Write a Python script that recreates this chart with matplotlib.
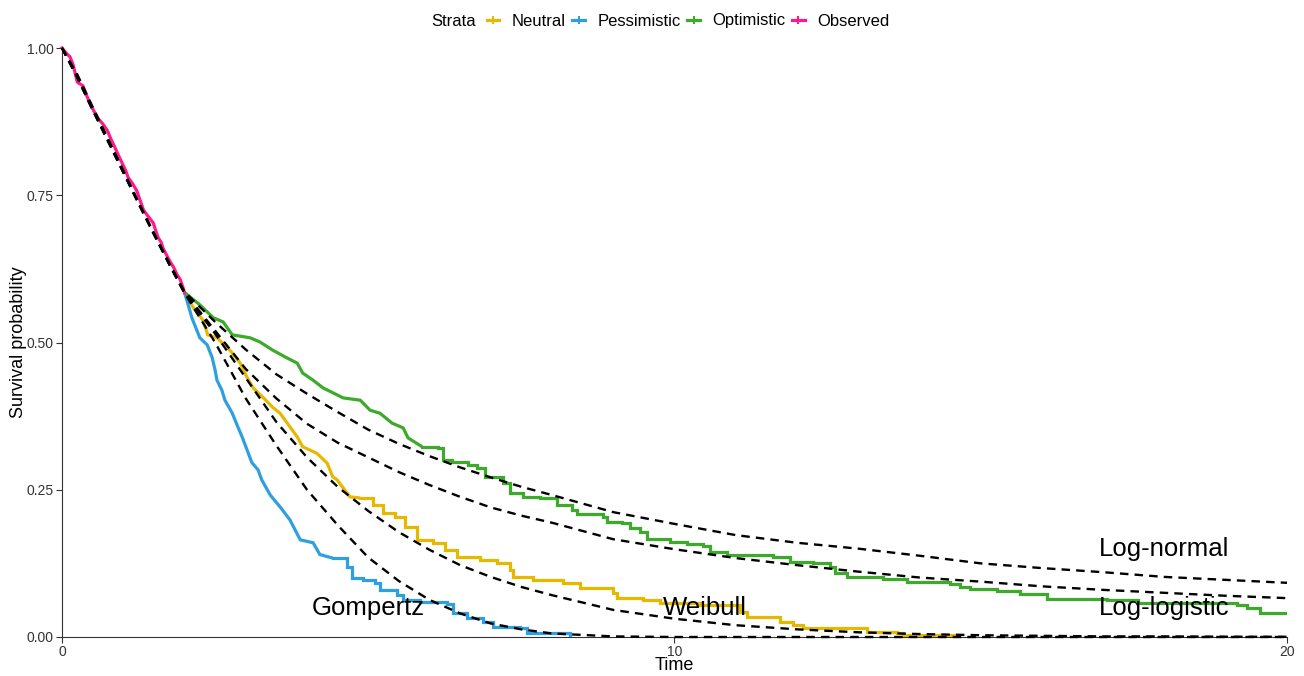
import matplotlib
matplotlib.use("Agg")
import matplotlib.pyplot as plt
from matplotlib.lines import Line2D

plt.rcParams['font.family'] = ['Liberation Sans', 'DejaVu Sans']

# Kaplan-Meier: observed follow-up (0-2 years)
obs_t = [0, 0.08, 0.13, 0.18, 0.22, 0.25, 0.34, 0.4, 0.46, 0.52, 0.59, 0.66, 0.74, 0.8,
         0.86, 0.92, 0.98, 1.04, 1.08, 1.15, 1.22, 1.28, 1.33, 1.4, 1.49, 1.53, 1.57,
         1.62, 1.65, 1.7, 1.76, 1.82, 1.88, 1.93, 1.97, 2.0]
obs_s = [1.0, 0.99, 0.985, 0.972, 0.955, 0.942, 0.936, 0.92, 0.905, 0.893, 0.88, 0.872,
         0.86, 0.845, 0.832, 0.818, 0.805, 0.792, 0.78, 0.77, 0.758, 0.74, 0.725, 0.715,
         0.703, 0.69, 0.678, 0.67, 0.66, 0.65, 0.638, 0.628, 0.615, 0.607, 0.595, 0.585]

# extrapolated strata
opt_t = [2.0, 2.25, 2.47, 2.63, 2.78, 3.07, 3.23, 3.44, 3.67, 3.84, 3.93, 4.10, 4.26, 4.59,
         4.87, 5.03, 5.19, 5.39, 5.57, 5.65, 5.88, 6.14, 6.22, 6.37, 6.63, 6.78, 6.91, 7.20,
         7.31, 7.53, 7.80, 8.08, 8.33, 8.41, 8.83, 8.90, 9.14, 9.27, 9.44, 9.55, 9.93, 10.20,
         10.47, 10.58, 10.86, 11.61, 11.89, 12.26, 12.54, 12.62, 12.82, 13.40, 13.80, 14.50,
         14.66, 14.82, 15.27, 15.64, 16.08, 17.06, 17.57, 19.18, 19.35, 19.56, 20.0]
opt_s = [0.585, 0.564, 0.542, 0.535, 0.513, 0.508, 0.501, 0.487, 0.474, 0.465, 0.448, 0.436,
         0.423, 0.406, 0.402, 0.385, 0.380, 0.363, 0.355, 0.338, 0.323, 0.321, 0.301, 0.297,
         0.292, 0.287, 0.272, 0.261, 0.244, 0.238, 0.236, 0.224, 0.216, 0.209, 0.204, 0.195,
         0.194, 0.185, 0.178, 0.166, 0.161, 0.158, 0.155, 0.144, 0.139, 0.136, 0.127, 0.126,
         0.119, 0.109, 0.102, 0.098, 0.093, 0.090, 0.085, 0.081, 0.078, 0.073, 0.065, 0.063,
         0.058, 0.054, 0.049, 0.041, 0.041]

neu_t = [2.0, 2.14, 2.30, 2.38, 2.53, 2.74, 2.91, 3.02, 3.12, 3.28, 3.44, 3.56, 3.72, 3.84,
         3.93, 4.16, 4.33, 4.42, 4.49, 4.70, 4.87, 5.08, 5.24, 5.44, 5.60, 5.80, 6.06, 6.25,
         6.45, 6.82, 7.10, 7.31, 7.36, 7.69, 8.18, 8.46, 9.00, 9.06, 9.49, 9.76, 10.42, 11.07,
         11.18, 11.72, 11.93, 12.10, 13.03, 13.14, 13.63, 13.73, 14.61]
neu_s = [0.585, 0.560, 0.538, 0.513, 0.508, 0.487, 0.465, 0.441, 0.423, 0.407, 0.390, 0.380,
         0.357, 0.340, 0.323, 0.312, 0.295, 0.272, 0.267, 0.238, 0.236, 0.224, 0.211, 0.204,
         0.187, 0.165, 0.160, 0.148, 0.136, 0.131, 0.126, 0.114, 0.102, 0.097, 0.092, 0.083,
         0.075, 0.066, 0.063, 0.058, 0.054, 0.042, 0.034, 0.025, 0.020, 0.015, 0.015, 0.008,
         0.007, 0.003, 0.003]

pes_t = [2.0, 2.06, 2.12, 2.20, 2.25, 2.37, 2.45, 2.50, 2.53, 2.61, 2.66, 2.78, 2.87, 2.94,
         3.02, 3.10, 3.20, 3.26, 3.40, 3.56, 3.72, 3.89, 4.10, 4.21, 4.42, 4.65, 4.73, 4.91,
         5.11, 5.19, 5.47, 5.57, 5.84, 6.29, 6.38, 6.61, 6.87, 7.04, 7.48, 7.59, 8.29]
pes_s = [0.585, 0.564, 0.542, 0.521, 0.508, 0.496, 0.475, 0.453, 0.436, 0.419, 0.402, 0.380,
         0.357, 0.340, 0.318, 0.296, 0.284, 0.267, 0.241, 0.221, 0.199, 0.165, 0.160, 0.140,
         0.134, 0.119, 0.100, 0.097, 0.092, 0.080, 0.071, 0.063, 0.059, 0.056, 0.041, 0.032,
         0.025, 0.017, 0.015, 0.007, 0.003]

# parametric fits
fit_t = [0, 0.25, 0.5, 0.75, 1.0, 1.25, 1.5, 1.75, 2.0, 2.5, 3, 3.5, 4, 4.5, 5, 5.5, 6, 6.5,
         7, 7.5, 8, 9, 10, 11, 12, 13, 14, 15, 16, 17, 18, 19, 20]
gompertz = [1.0, 0.95, 0.895, 0.842, 0.789, 0.736, 0.684, 0.633, 0.584, 0.50, 0.405, 0.325,
            0.25, 0.19, 0.135, 0.095, 0.063, 0.04, 0.023, 0.013, 0.006, 0.001, 0, 0, 0, 0,
            0, 0, 0, 0, 0, 0, 0]
weibull = [1.0, 0.95, 0.895, 0.842, 0.789, 0.736, 0.684, 0.633, 0.584, 0.515, 0.44, 0.365,
           0.305, 0.255, 0.214, 0.178, 0.148, 0.122, 0.102, 0.085, 0.071, 0.046, 0.031,
           0.02, 0.013, 0.008, 0.005, 0.003, 0.002, 0.001, 0.001, 0.0005, 0.0003]
loglogistic = [1.0, 0.952, 0.897, 0.844, 0.791, 0.737, 0.685, 0.634, 0.585, 0.52, 0.455,
               0.405, 0.362, 0.330, 0.305, 0.28, 0.258, 0.238, 0.22, 0.206, 0.194, 0.166,
               0.149, 0.134, 0.122, 0.111, 0.101, 0.094, 0.086, 0.08, 0.075, 0.07, 0.066]
lognormal = [1.0, 0.955, 0.9, 0.846, 0.792, 0.738, 0.686, 0.635, 0.586, 0.535, 0.488, 0.446,
             0.413, 0.382, 0.352, 0.328, 0.307, 0.288, 0.271, 0.255, 0.241, 0.212, 0.192,
             0.173, 0.16, 0.15, 0.138, 0.125, 0.117, 0.11, 0.102, 0.097, 0.092]

fit_names = ["Gompertz", "Weibull", "Log-normal", "Log-logistic"]
label_t = [5.0, 10.5, 18.0, 18.0]
label_s = [0.049, 0.049, 0.149, 0.049]

strata = ["Neutral", "Pessimistic", "Optimistic", "Observed"]
colors = ["#E7B800", "#2E9FDF", "#3DAA2B", "#FF1A8C"]


def draw_km(ax, t, s, color, t_flat):
    # dense early drops traced as a path, sparse tail drawn as true steps
    k = max(i for i, v in enumerate(t) if v <= t_flat)
    kw = dict(color=color, lw=2.3, zorder=3, solid_joinstyle="miter")
    ax.plot(t[:k + 1], s[:k + 1], solid_capstyle="butt", **kw)
    ax.step(t[k:], s[k:], where="post", **kw)


fig = plt.figure(figsize=(13.04, 6.76), dpi=100)
ax = fig.add_axes([62/1304, 1-637/676, (1287-62)/1304, (637-48)/676])

for s in (gompertz, weibull, loglogistic, lognormal):
    ax.plot(fit_t, s, color="black", lw=1.7, dashes=(3.6, 2.6), zorder=4, clip_on=False)

draw_km(ax, neu_t, neu_s, colors[0], 5.0)
draw_km(ax, pes_t, pes_s, colors[1], 4.5)
draw_km(ax, opt_t, opt_s, colors[2], 6.0)
ax.plot(obs_t, obs_s, color=colors[3], lw=2.3, zorder=3, clip_on=False)

for name, x, y in zip(fit_names, label_t, label_s):
    ax.text(x, y, name, fontsize=18.5, ha="center", va="center", color="black", zorder=5)

ax.set_xlim(0, 20)
ax.set_ylim(0, 1)
ax.set_xticks([0, 10, 20])
ax.set_yticks([0, 0.25, 0.5, 0.75, 1.0])
ax.set_yticklabels(["0.00", "0.25", "0.50", "0.75", "1.00"])
ax.tick_params(labelsize=10, colors="#333333", length=4, width=0.8, pad=2)
for side in ("top", "right"):
    ax.spines[side].set_visible(False)
for side in ("left", "bottom"):
    ax.spines[side].set_color("#333333")
    ax.spines[side].set_linewidth(0.8)
ax.set_xlabel("Time", fontsize=13, va="center")
ax.xaxis.set_label_coords(0.5, (637 - 666) / 589)
ax.set_ylabel("Survival probability", fontsize=13, va="center", ha="center")
ax.yaxis.set_label_coords((18 - 62) / 1225, 0.5)

handles = [Line2D([0], [0], color=c, lw=2.3, marker="|", markersize=6, markeredgewidth=1.5)
           for c in colors]
fig.text(454/1304, 1-21/676, "Strata", fontsize=12, ha="center", va="center")
fig.legend(handles, strata, loc="center", bbox_to_anchor=(688/1304, 1-21/676), ncol=4,
           frameon=False, fontsize=12, handlelength=0.75, handletextpad=0.75,
           columnspacing=0.4, borderaxespad=0, borderpad=0)

fig.savefig("out.png", dpi=100)
